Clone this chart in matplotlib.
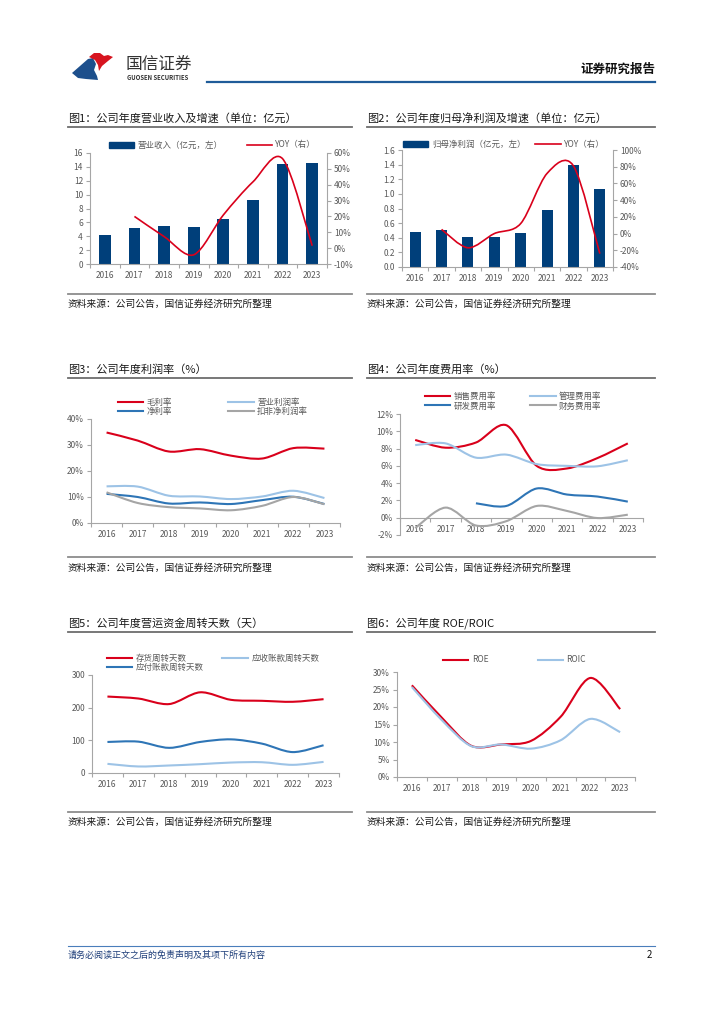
import numpy as np
import matplotlib
matplotlib.use('Agg')
from matplotlib import pyplot as plt
from matplotlib.path import Path
from matplotlib.patches import PathPatch, Polygon, Patch
from matplotlib.lines import Line2D

plt.rcParams['font.family'] = ['Noto Sans CJK SC', 'DejaVu Sans']
plt.rcParams['axes.unicode_minus'] = False

years = ['2016', '2017', '2018', '2019', '2020', '2021', '2022', '2023']

# 图1 营业收入
revenue = [4.25, 5.2, 5.5, 5.3, 6.5, 9.2, 14.4, 14.6]
revenue_yoy = [None, 20.0, 7.3, -4.2, 20.9, 41.8, 56.4, 1.5]
# 图2 归母净利润
profit = [0.48, 0.50, 0.41, 0.41, 0.46, 0.78, 1.40, 1.07]
profit_yoy = [None, 5.0, -17.0, 0.0, 12.0, 72.0, 81.0, -24.0]
# 图3 利润率
gross_margin = [34.8, 31.7, 27.5, 28.4, 25.9, 24.8, 28.8, 28.6]
op_margin = [14.1, 14.0, 10.5, 10.2, 9.2, 10.2, 12.4, 9.6]
net_margin = [11.2, 10.0, 7.5, 7.9, 7.3, 8.8, 10.1, 7.3]
deduct_margin = [11.8, 7.7, 6.1, 5.6, 4.9, 6.6, 10.0, 7.2]
# 图4 费用率
sales_rate = [9.0, 8.1, 8.7, 10.7, 6.0, 5.7, 6.9, 8.6]
admin_rate = [8.4, 8.6, 6.95, 7.3, 6.2, 6.0, 5.95, 6.65]
rd_rate = [None, None, 1.67, 1.36, 3.38, 2.68, 2.45, 1.86]
fin_rate = [-1.2, 1.17, -0.9, -0.4, 1.36, 0.78, -0.04, 0.35]
# 图5 周转天数
inventory_days = [234, 228, 211, 247, 224, 221, 218, 226]
receivable_days = [28, 20, 23, 27, 32, 33, 25, 34]
payable_days = [95, 96, 77, 95, 103, 90, 64, 85]
# 图6 ROE/ROIC
roe = [26.2, 17.0, 8.9, 9.3, 10.3, 17.2, 28.3, 19.4]
roic = [25.7, 16.3, 8.8, 9.3, 8.1, 10.5, 16.6, 12.8]

RED = '#d9001b'
NAVY = '#003f7a'
LBLUE = '#9dc3e6'
BLUE = '#2e75b6'
GRAY = '#a5a5a5'
TICK = '#595959'
SPINE = '#a6a6a6'

W, H = 724, 1024
fig = plt.figure(figsize=(7.24, 10.24), dpi=100)


def box(x0, y0, x1, y1):
    return [x0 / W, 1 - y1 / H, (x1 - x0) / W, (y1 - y0) / H]


def smooth_line(ax, values, color, lw=1.5):
    """ 仿Excel平滑线 """
    pts = np.array([(i, v) for i, v in enumerate(values) if v is not None], float)
    n = len(pts)
    verts = [pts[0]]
    codes = [Path.MOVETO]
    for i in range(n - 1):
        p0 = pts[i - 1] if i > 0 else pts[i]
        p1, p2 = pts[i], pts[i + 1]
        p3 = pts[i + 2] if i + 2 < n else pts[i + 1]
        verts += [p1 + (p2 - p0) / 6.5, p2 - (p3 - p1) / 6.5, p2]
        codes += [Path.CURVE4] * 3
    ax.add_patch(PathPatch(Path(verts, codes), fill=False, edgecolor=color,
                           lw=lw, capstyle='butt', zorder=3))
    return Line2D([], [], color=color, lw=lw)


def style_axes(ax, ylim, yticks, fmt):
    ax.set_xlim(-0.5, 7.5)
    ax.set_ylim(*ylim)
    ax.set_yticks(yticks)
    ax.set_yticklabels([fmt(v) for v in yticks])
    ax.set_xticks(range(8))
    ax.set_xticklabels(years)
    ax.set_xticks(np.arange(-0.5, 8, 1), minor=True)
    ax.tick_params(axis='x', which='major', length=0, pad=5)
    ax.tick_params(axis='x', which='minor', length=3, color=SPINE, width=0.8)
    ax.tick_params(axis='y', length=3, color=SPINE, width=0.8, pad=2)
    ax.tick_params(labelsize=6, labelcolor=TICK)
    for s in ['top', 'right']:
        ax.spines[s].set_visible(False)
    for s in ['left', 'bottom']:
        ax.spines[s].set_color(SPINE)
        ax.spines[s].set_linewidth(0.8)


def right_axis(ax, ylim, ticks):
    axr = ax.twinx()
    axr.set_ylim(*ylim)
    axr.set_yticks(ticks)
    axr.set_yticklabels([pct(v) for v in ticks])
    axr.tick_params(length=3, color=SPINE, width=0.8, labelsize=6, labelcolor=TICK, pad=2)
    for s in ['top', 'left', 'bottom']:
        axr.spines[s].set_visible(False)
    axr.spines['right'].set_color(SPINE)
    axr.spines['right'].set_linewidth(0.8)
    return axr


def place_legend(ax, handles, labels, x, y, ncol, colsp, labelsp=0.15):
    # x: 图例左端（像素），y: 图例中心（像素）
    ax.legend(handles, labels, loc='center left', bbox_to_anchor=(x / W, 1 - y / H),
              bbox_transform=fig.transFigure, ncol=ncol, frameon=False,
              fontsize=6.1, handlelength=3.0, columnspacing=colsp,
              labelspacing=labelsp, handletextpad=0.4, borderpad=0,
              borderaxespad=0, labelcolor=TICK)


def panel_frame(x0, x1, title, y_title, y_line, y_src_line, y_src):
    fig.text(x0 / W, 1 - y_title / H, title, fontsize=8, va='center', ha='left', color='#1a1a1a')
    fig.add_artist(Line2D([x0 / W, x1 / W], [1 - y_line / H] * 2, color='#6d6d6d', lw=1.3))
    fig.add_artist(Line2D([x0 / W, x1 / W], [1 - y_src_line / H] * 2, color='#8c8c8c', lw=1.3))
    fig.text(x0 / W, 1 - y_src / H, '资料来源：公司公告，国信证券经济研究所整理',
             fontsize=7, va='center', ha='left', color='#1a1a1a')


pct = lambda v: f'{v:g}%'

# ---------------- 页眉 ----------------
blue_logo = [(72, 73), (88, 59), (93, 58), (96, 64), (94, 70), (97, 76), (98, 80), (86, 79), (78, 78)]
red_logo = [(89, 57), (94, 53), (100, 53), (104, 56), (108, 55), (113, 57), (108, 61), (102, 66),
            (99, 71), (98, 65), (95, 60)]
fig.add_artist(Polygon([(x / W, 1 - y / H) for x, y in blue_logo], closed=True,
                       facecolor='#1d4f8c', edgecolor='none'))
fig.add_artist(Polygon([(x / W, 1 - y / H) for x, y in red_logo], closed=True,
                       facecolor='#d7141f', edgecolor='none'))
fig.text(126 / W, 1 - 64 / H, '国信证券', fontsize=12, color='#333333', va='center', ha='left')
fig.text(127 / W, 1 - 78 / H, 'GUOSEN SECURITIES', fontsize=4.3, color='#333333',
         va='center', ha='left', fontweight='bold')
fig.add_artist(Line2D([207 / W, 655 / W], [1 - 81.5 / H] * 2, color='#1f5c99', lw=1.6))
fig.text(655 / W, 1 - 69 / H, '证券研究报告', fontsize=9, fontweight='bold',
         va='center', ha='right', color='#111111')

# ---------------- 页脚 ----------------
fig.add_artist(Line2D([68 / W, 655 / W], [1 - 945.5 / H] * 2, color='#4a7ebb', lw=0.8))
fig.text(68 / W, 1 - 955 / H, '请务必阅读正文之后的免责声明及其项下所有内容',
         fontsize=6.5, color='#1f3f7a', va='center', ha='left')
fig.text(652 / W, 1 - 955 / H, '2', fontsize=7, color='#111111', va='center', ha='right')

# ---------------- 图1 ----------------
panel_frame(68, 352, '图1：公司年度营业收入及增速（单位：亿元）', 118, 127, 294, 304)
ax1 = fig.add_axes(box(90, 153, 327, 264))
ax1.bar(range(8), revenue, width=0.4, color=NAVY, zorder=2)
style_axes(ax1, (0, 16), range(0, 17, 2), lambda v: f'{v}')
ax1r = right_axis(ax1, (-10, 60), range(-10, 61, 10))
h_yoy = smooth_line(ax1r, revenue_yoy, RED, lw=1.2)
place_legend(ax1r, [Patch(color=NAVY), h_yoy], ['营业收入（亿元，左）', 'YOY（右）'],
             109, 145, 2, 2.8)

# ---------------- 图2 ----------------
panel_frame(367, 655, '图2：公司年度归母净利润及增速（单位：亿元）', 118, 127, 294, 304)
ax2 = fig.add_axes(box(402, 150, 613, 267))
ax2.bar(range(8), profit, width=0.42, color=NAVY, zorder=2)
style_axes(ax2, (0, 1.6), np.arange(0, 1.61, 0.2), lambda v: f'{v:.1f}')
ax2r = right_axis(ax2, (-40, 100), range(-40, 101, 20))
h_yoy2 = smooth_line(ax2r, profit_yoy, RED, lw=1.2)
place_legend(ax2r, [Patch(color=NAVY), h_yoy2], ['归母净利润（亿元，左）', 'YOY（右）'],
             403, 144, 2, 1.2)

# ---------------- 图3 ----------------
panel_frame(68, 352, '图3：公司年度利润率（%）', 370, 378, 557, 568)
ax3 = fig.add_axes(box(91, 419, 340, 523))
style_axes(ax3, (0, 40), range(0, 41, 10), pct)
h = [smooth_line(ax3, gross_margin, RED),
     smooth_line(ax3, net_margin, BLUE),
     smooth_line(ax3, op_margin, LBLUE),
     smooth_line(ax3, deduct_margin, GRAY)]
place_legend(ax3, h, ['毛利率', '净利率', '营业利润率', '扣非净利润率'],
             118, 406.5, 2, 6.6, 0.0)

# ---------------- 图4 ----------------
panel_frame(367, 655, '图4：公司年度费用率（%）', 370, 378, 557, 568)
ax4 = fig.add_axes(box(400, 414, 643, 535))
style_axes(ax4, (-2, 12), range(-2, 13, 2), pct)
ax4.spines['bottom'].set_position(('data', 0))
h = [smooth_line(ax4, sales_rate, RED),
     smooth_line(ax4, rd_rate, BLUE),
     smooth_line(ax4, admin_rate, LBLUE),
     smooth_line(ax4, fin_rate, GRAY)]
place_legend(ax4, h, ['销售费用率', '研发费用率', '管理费用率', '财务费用率'],
             425, 401, 2, 4.0, 0.1)

# ---------------- 图5 ----------------
panel_frame(68, 352, '图5：公司年度营运资金周转天数（天）', 623, 632, 812, 822)
ax5 = fig.add_axes(box(92, 675, 339, 773))
style_axes(ax5, (0, 300), range(0, 301, 100), lambda v: f'{v}')
h = [smooth_line(ax5, inventory_days, RED),
     smooth_line(ax5, payable_days, BLUE),
     smooth_line(ax5, receivable_days, LBLUE)]
place_legend(ax5, h, ['存货周转天数', '应付账款周转天数', '应收账款周转天数'],
             107, 663, 2, 2.2, -0.1)

# ---------------- 图6 ----------------
panel_frame(367, 655, '图6：公司年度 ROE/ROIC', 623, 632, 812, 822)
ax6 = fig.add_axes(box(397, 672, 635, 777))
style_axes(ax6, (0, 30), range(0, 31, 5), pct)
h = [smooth_line(ax6, roe, RED), smooth_line(ax6, roic, LBLUE)]
place_legend(ax6, h, ['ROE', 'ROIC'], 443, 660, 2, 5.8)

fig.savefig('out.png', dpi=100, facecolor='white')
